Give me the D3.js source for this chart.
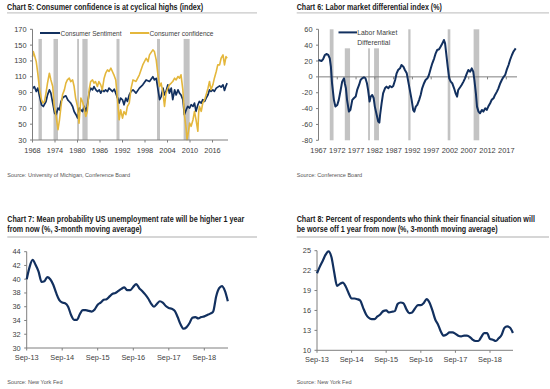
<!DOCTYPE html>
<html>
<head>
<meta charset="utf-8">
<script src="https://cdn.jsdelivr.net/npm/d3@7"></script>
<style>
	body { margin: 0; background: #fff; }
	svg { display: block; }
	text { font-family: "Liberation Sans Narrow", "Arial Narrow", "Liberation Sans", Arial, sans-serif; fill: #404040; }
	.title { font-weight: bold; fill: #1a1a1a; font-size: 8.2px; }
	.source { font-size: 6px; fill: #555; }
	.tick { font-size: 7.4px; }
	.axis { stroke: #7f7f7f; stroke-width: 1; fill: none; }
	.legend { font-size: 7.4px; }
</style>
</head>
<body>
<svg id="chart" width="550" height="389"></svg>
<script>

// chart 5: recession bars and the two surveys, [decimal year, index]
var recessions5 = [[1969.6, 1970.5], [1973.6, 1974.8], [1979.9, 1980.4], [1981.3, 1982.7], [1990.4, 1991.2], [2001.2, 2002.0], [2008.3, 2009.9]];
var years5 = [1968, 1974, 1980, 1986, 1992, 1998, 2004, 2010, 2016];
var ticks5 = [30, 50, 70, 90, 110, 130, 150, 170];

var sentiment = [
	[1968.0, 95], [1968.5, 97.6], [1969.0, 91.3], [1969.4, 95.6], [1970.0, 83], [1970.4, 74.5], [1970.9, 72.4],
	[1971.6, 78.7], [1972.0, 87], [1972.5, 93.4], [1972.9, 89.3], [1973.4, 76.7], [1973.9, 64], [1974.3, 62],
	[1974.8, 70.4], [1975.2, 68], [1975.6, 78.7], [1976.0, 83], [1976.5, 85], [1976.9, 85.9], [1977.4, 80.8],
	[1977.8, 78.7], [1978.2, 76.7], [1978.7, 72.4], [1979.1, 66], [1979.6, 62], [1980.0, 58], [1980.5, 70.4],
	[1980.9, 68], [1981.3, 66], [1981.8, 72.4], [1982.2, 66], [1982.6, 72.4], [1983.1, 89.3], [1983.5, 95.6],
	[1984.0, 93.4], [1984.4, 97.6], [1984.9, 93.4], [1985.3, 91.3], [1985.8, 93.4], [1986.2, 89.3], [1986.6, 93.4],
	[1987.1, 91.3], [1987.5, 93.4], [1988.0, 91.3], [1988.4, 95.6], [1988.9, 93.4], [1989.3, 91.3], [1989.8, 94.3],
	[1990.2, 89.3], [1990.7, 83], [1991.1, 76.7], [1991.5, 83], [1992.0, 80.8], [1992.4, 74.5], [1992.9, 83],
	[1993.3, 78.7], [1993.8, 87], [1994.3, 91.4], [1994.8, 93.5], [1995.6, 89.3], [1996.5, 95.6], [1997.4, 99.8],
	[1998.3, 106], [1999.2, 104], [2000.1, 110], [2000.5, 106], [2001.0, 108], [2001.4, 95.6], [2001.9, 81],
	[2002.3, 85], [2002.8, 95.6], [2003.2, 87], [2003.6, 91.4], [2004.1, 99.8], [2004.5, 89.3], [2005.0, 95.6],
	[2005.4, 81], [2005.9, 93.5], [2006.3, 87], [2006.8, 93.5], [2007.2, 89.3], [2007.6, 87], [2008.1, 81],
	[2008.5, 62], [2009.0, 68.3], [2009.4, 72.5], [2009.9, 70.4], [2010.3, 74.6], [2010.8, 72.5], [2011.2, 76.7],
	[2011.6, 66.2], [2012.1, 74.6], [2012.5, 78.8], [2013.0, 76.7], [2013.4, 81], [2013.9, 78.8], [2014.3, 83],
	[2014.8, 87.2], [2015.2, 93.5], [2015.6, 91.4], [2016.1, 93.5], [2016.5, 91.4], [2017.0, 95.6], [2017.4, 96.9],
	[2017.9, 98.5], [2018.3, 96.9], [2018.8, 99.8], [2019.2, 92.6], [2019.6, 98.5], [2019.9, 102]
];

var confidence = [
	[1968.0, 135], [1968.2, 141.8], [1968.5, 137.6], [1969.0, 129.1], [1969.4, 114.5], [1969.9, 93.4], [1970.4, 80.8],
	[1970.8, 76.7], [1971.2, 78.7], [1971.6, 89.3], [1972.0, 101.9], [1972.5, 114.5], [1972.9, 106], [1973.4, 97.6],
	[1973.8, 72.4], [1974.3, 59.8], [1974.8, 43], [1975.2, 55.6], [1975.6, 72.4], [1976.0, 87.2], [1976.5, 93.4],
	[1976.9, 101.9], [1977.3, 106], [1977.8, 108.2], [1978.2, 103.9], [1978.7, 106], [1979.1, 97.6], [1979.5, 83],
	[1980.0, 72.4], [1980.4, 51.4], [1980.9, 83], [1981.3, 78.7], [1981.7, 72.4], [1982.2, 59.8], [1982.6, 66],
	[1983.1, 93.4], [1983.5, 103.9], [1984.0, 106], [1984.4, 101.9], [1984.8, 103.9], [1985.3, 97.6], [1985.7, 103.9],
	[1986.2, 99.7], [1986.6, 93.4], [1987.1, 108.2], [1987.5, 114.5], [1988.0, 118.7], [1988.4, 116.6], [1988.9, 120.8],
	[1989.3, 116.6], [1989.7, 112.4], [1990.2, 106], [1990.6, 85], [1991.1, 55.6], [1991.5, 68.2], [1992.0, 57.7],
	[1992.4, 66], [1992.9, 62], [1993.3, 72.4], [1993.8, 76.7], [1994.3, 95.6], [1994.8, 106], [1995.6, 104],
	[1996.5, 112.4], [1997.4, 125], [1998.3, 133.4], [1998.8, 129], [1999.2, 137.6], [2000.1, 144], [2000.5, 142],
	[2001.0, 131], [2001.4, 114.5], [2001.9, 97.7], [2002.3, 102], [2002.8, 89.3], [2003.2, 72.5], [2003.6, 89.3],
	[2004.1, 95.6], [2004.5, 99.8], [2005.0, 102], [2005.4, 104], [2005.9, 108.2], [2006.3, 106], [2006.8, 110.3],
	[2007.2, 108.2], [2007.6, 112.4], [2008.1, 93.5], [2008.5, 62], [2009.0, 43], [2009.2, 30.4], [2009.6, 41],
	[2009.9, 51.5], [2010.3, 47.3], [2010.8, 55.7], [2011.2, 66.2], [2011.6, 55.7], [2012.1, 41], [2012.3, 64],
	[2012.5, 72.5], [2013.0, 66.2], [2013.4, 76.7], [2013.9, 81], [2014.3, 87.2], [2014.8, 95.6], [2015.2, 104],
	[2015.6, 93.5], [2016.1, 99.8], [2016.5, 108.2], [2017.0, 116.6], [2017.4, 125], [2017.9, 125], [2018.3, 133.4],
	[2018.8, 137.6], [2019.2, 125], [2019.6, 135.5], [2019.9, 133.4]
];

// chart 6: labor market differential, [decimal year, %]; bars carry their top value
var recessions6 = [[1970.0, 1971.0, 60], [1974.0, 1975.4, 36], [1980.2, 1980.7, 36], [1981.8, 1983.1, 36], [1990.9, 1991.5, 60], [2001.4, 2002.1, 60], [2008.3, 2009.8, 60]];
var years6 = [1967, 1972, 1977, 1982, 1987, 1992, 1997, 2002, 2007, 2012, 2017];
var ticks6 = [-80, -60, -40, -20, 0, 20, 40, 60];

var labor = [
	[1967.0, 21.3], [1967.8, 20], [1968.2, 22], [1968.7, 27.6], [1969.1, 28.9], [1969.6, 27.6], [1970.0, 23.4],
	[1970.3, 13], [1970.6, -8], [1971.1, -29], [1971.5, -37.5], [1972.0, -35.4], [1972.4, -29], [1972.9, -16.5],
	[1973.3, -6], [1973.8, -1.8], [1974.0, -8], [1974.3, -14.4], [1974.6, -29], [1975.1, -43.8], [1975.5, -41.7],
	[1976.0, -29], [1976.4, -27], [1976.9, -24.9], [1977.3, -16.5], [1977.8, -10.2], [1978.2, -3.9], [1978.6, -1.8],
	[1979.1, -0.5], [1979.5, -1.8], [1979.9, -8], [1980.2, -16.5], [1980.6, -31.2], [1980.9, -24.9], [1981.3, -22.8],
	[1981.7, -27], [1982.0, -37.5], [1982.5, -48], [1982.9, -56.4], [1983.2, -57.7], [1983.4, -48], [1983.8, -33.3],
	[1984.2, -20.7], [1984.7, -14.4], [1985.1, -12.3], [1985.6, -14.4], [1986.0, -11.5], [1986.5, -13.1], [1986.9, -11.5],
	[1987.4, -3.9], [1987.8, 4.5], [1988.2, 8.7], [1988.7, 10.8], [1989.1, 15], [1989.6, 12.9], [1990.0, 8.7],
	[1990.5, 4.5], [1990.9, -6], [1991.4, -18.6], [1991.8, -29], [1992.2, -41.7], [1992.5, -43.8], [1992.9, -37.5],
	[1993.3, -35.4], [1993.8, -29], [1994.2, -22.8], [1994.6, -14.4], [1995.1, -8], [1995.5, -3.9], [1996.0, -1.8],
	[1996.4, 2.4], [1996.9, 10.8], [1997.3, 17.1], [1997.8, 23.4], [1998.2, 29.7], [1998.6, 33.9], [1999.1, 34.8],
	[1999.5, 38.1], [2000.0, 42.3], [2000.4, 46.5], [2000.7, 42.3], [2001.0, 29.7], [2001.4, 12.9], [2001.8, -1.8],
	[2002.2, -6], [2002.6, -8], [2003.1, -14.4], [2003.5, -20.7], [2003.9, -24.9], [2004.2, -16.5], [2004.7, -13.1],
	[2005.1, -10.2], [2005.6, -6], [2006.0, -1.8], [2006.5, 4.5], [2006.9, 8.7], [2007.4, 6.6], [2007.8, 10.8],
	[2008.2, 6.6], [2008.5, -3.9], [2008.9, -20.7], [2009.2, -37.5], [2009.6, -43.8], [2010.0, -45.9], [2010.5, -41.7],
	[2010.9, -43.8], [2011.4, -39.6], [2011.8, -41.7], [2012.2, -37.5], [2012.7, -33.3], [2013.1, -29], [2013.6, -27],
	[2014.0, -22.8], [2014.5, -18.6], [2014.9, -14.4], [2015.4, -8], [2015.8, -3.9], [2016.2, -0.5], [2016.7, 2.4],
	[2017.1, 8.7], [2017.6, 15], [2018.0, 21.3], [2018.5, 27.6], [2018.9, 31.8], [2019.2, 33.9], [2019.5, 36]
];

// charts 7 and 8: monthly, first month Sep-13
var startMonth = new Date(2013, 8, 1);
var tickMonths = [2013, 2014, 2015, 2016, 2017, 2018];
var ticks7 = [30, 32, 34, 36, 38, 40, 42, 44];
var ticks8 = [10, 13, 16, 19, 22, 25];

var unemployment = [
	40.0, 41.8, 42.8, 42.1, 41.1, 39.6, 39.7, 40.3, 40.0, 39.2, 38.0, 37.0, 36.6, 36.5, 36.0, 34.8, 34.1,
	34.1, 34.9, 35.5, 35.5, 35.4, 35.3, 35.6, 36.3, 36.6, 37.0, 37.1, 37.5, 37.9, 38.0, 38.3, 38.6, 38.8,
	38.4, 38.4, 38.9, 39.3, 38.7, 38.3, 37.8, 37.2, 36.5, 36.0, 36.4, 36.8, 36.6, 36.1, 35.8, 35.7, 35.4,
	34.5, 33.4, 32.8, 33.0, 33.6, 34.4, 34.5, 34.3, 34.5, 34.6, 34.8, 35.0, 35.3, 37.5, 38.7, 39.0, 38.3, 36.8
];

var worseOff = [
	21.6, 22.6, 23.5, 24.4, 24.9, 24.0, 21.8, 19.7, 20.0, 20.2, 19.6, 18.6, 17.8, 17.8, 17.7, 17.5, 16.4,
	15.4, 14.9, 14.7, 14.7, 15.1, 15.4, 15.9, 16.0, 15.7, 15.8, 15.9, 17.0, 17.2, 17.1, 16.2, 15.6, 15.7,
	16.3, 16.8, 16.8, 17.1, 17.7, 17.2, 16.0, 14.6, 13.9, 12.8, 12.2, 12.4, 12.7, 12.7, 12.5, 12.2, 12.1,
	12.2, 12.2, 12.0, 11.6, 11.4, 11.4, 12.0, 12.6, 12.6, 11.7, 11.6, 11.4, 11.8, 12.3, 13.4, 13.6, 13.4, 12.6
];

var navy = "#12305f",
	gold = "#e4b73c",
	barGrey = "#c3c3c3";

var svg = d3.select("#chart");

// place a text and squeeze it horizontally to the width it has in the picture
function fitText(parent, cls, x, y, w, t) {
	var el = parent.append("text")
	.attr("class", cls)
	.attr("x", 0)
	.attr("y", 0)
	.text(t);
	var natural = el.node().getComputedTextLength();
	var s = natural > 0 ? w / natural : 1;
	el.attr("transform", "translate(" + x + "," + y + ") scale(" + s + ",1)");
	return el;
}

function titleBlock(x, lines, widths, yLines, rule) {
	var g = svg.append("g");
	lines.forEach(function (t, i) {
		fitText(g, "title", x, yLines[i], widths[i], t);
	});
	g.append("line")
	.attr("x1", x)
	.attr("x2", rule[1])
	.attr("y1", rule[0])
	.attr("y2", rule[0])
	.attr("stroke", "#c8c8c8")
	.attr("stroke-width", 1.3);
}

function source(x, y, t, w) {
	fitText(svg, "source", x, y, w, t);
}

function yAxis(x, yScale, values) {
	var g = svg.append("g");
	var r = yScale.range();
	g.append("line").attr("class", "axis")
	.attr("x1", x).attr("x2", x).attr("y1", r[0]).attr("y2", r[1]);
	g.selectAll("line.tk")
	.data(values)
	.enter()
	.append("line")
	.attr("class", "axis tk")
	.attr("x1", x - 2.5).attr("x2", x)
	.attr("y1", function (d) { return yScale(d); })
	.attr("y2", function (d) { return yScale(d); });
	g.selectAll("text")
	.data(values)
	.enter()
	.append("text")
	.attr("class", "tick")
	.attr("text-anchor", "end")
	.attr("x", x - 6)
	.attr("y", function (d) { return yScale(d); })
	.attr("dy", "0.34em")
	.text(function (d) { return d; });
}

function xAxis(y, x1, x2, xScale, values, fmt, labelY) {
	var g = svg.append("g");
	g.append("line").attr("class", "axis")
	.attr("x1", x1).attr("x2", x2).attr("y1", y).attr("y2", y);
	g.selectAll("line.tk")
	.data(values)
	.enter()
	.append("line")
	.attr("class", "axis tk")
	.attr("x1", function (d) { return xScale(d); })
	.attr("x2", function (d) { return xScale(d); })
	.attr("y1", y).attr("y2", y + 2.5);
	g.selectAll("text")
	.data(values)
	.enter()
	.append("text")
	.attr("class", "tick")
	.attr("text-anchor", "middle")
	.attr("x", function (d) { return xScale(d); })
	.attr("y", labelY)
	.text(fmt);
}

// ---- chart 5
(function () {
	var x = d3.scaleLinear().domain([1968, 2016]).range([32.5, 212.5]),
		y = d3.scaleLinear().domain([30, 170]).range([140, 29.3]);

	titleBlock(7, ["Chart 5: Consumer confidence is at cyclical highs (index)"], [196], [9.6], [12.8, 257]);

	svg.append("g")
	.selectAll("rect")
	.data(recessions5)
	.enter()
	.append("rect")
	.attr("x", function (d) { return x(d[0]); })
	.attr("width", function (d) { return x(d[1]) - x(d[0]); })
	.attr("y", y(157.8))
	.attr("height", y(30) - y(157.8))
	.attr("fill", barGrey);

	var line = d3.line()
	.x(function (d) { return x(d[0]); })
	.y(function (d) { return y(d[1]); });

	svg.append("path").datum(sentiment)
	.attr("d", line).attr("fill", "none").attr("stroke", navy).attr("stroke-width", 1.7).attr("stroke-linejoin", "round");
	svg.append("path").datum(confidence)
	.attr("d", line).attr("fill", "none").attr("stroke", gold).attr("stroke-width", 1.6).attr("stroke-linejoin", "round");

	yAxis(32.5, y, ticks5);
	xAxis(140, 32.5, 228, x, years5, function (d) { return d; }, 152.5);

	// legend
	var lg = svg.append("g").attr("class", "legend");
	lg.append("line").attr("x1", 40).attr("x2", 60).attr("y1", 33).attr("y2", 33).attr("stroke", navy).attr("stroke-width", 2);
	fitText(lg, "legend", 60.5, 35.6, 61, "Consumer Sentiment");
	lg.append("line").attr("x1", 130).attr("x2", 149).attr("y1", 33).attr("y2", 33).attr("stroke", gold).attr("stroke-width", 2);
	fitText(lg, "legend", 149.5, 35.6, 64, "Consumer confidence");

	source(7.3, 176.5, "Source: University of Michigan, Conference Board", 123);
})();

// ---- chart 6
(function () {
	var x = d3.scaleLinear().domain([1967, 2017]).range([318.5, 506.3]),
		y = d3.scaleLinear().domain([-80, 60]).range([140.3, 29.3]);

	titleBlock(296.7, ["Chart 6: Labor market differential index (%)"], [145], [9.6], [12.8, 549]);

	svg.append("g")
	.selectAll("rect")
	.data(recessions6)
	.enter()
	.append("rect")
	.attr("x", function (d) { return x(d[0]); })
	.attr("width", function (d) { return x(d[1]) - x(d[0]); })
	.attr("y", function (d) { return y(d[2]); })
	.attr("height", function (d) { return y(-80) - y(d[2]); })
	.attr("fill", barGrey);

	yAxis(318.5, y, ticks6);
	// zero line carries the ticks, year labels sit under the plot
	xAxis(y(0), 318.5, 517, x, years6, function (d) { return d; }, 152.5);

	var line = d3.line()
	.x(function (d) { return x(d[0]); })
	.y(function (d) { return y(d[1]); });

	svg.append("path").datum(labor)
	.attr("d", line).attr("fill", "none").attr("stroke", navy).attr("stroke-width", 2).attr("stroke-linejoin", "round");

	var lg = svg.append("g").attr("class", "legend");
	lg.append("line").attr("x1", 338.5).attr("x2", 357).attr("y1", 32.4).attr("y2", 32.4).attr("stroke", navy).attr("stroke-width", 2);
	fitText(lg, "legend", 357.3, 35, 40, "Labor Market");
	fitText(lg, "legend", 357.3, 44.6, 33, "Differential");

	source(296.7, 176.5, "Source: Conference Board", 65.6);
})();

// ---- charts 7 and 8
function monthly(values) {
	return values.map(function (v, i) {
		return {date: d3.timeMonth.offset(startMonth, i), value: v};
	});
}
var fmtMonth = d3.timeFormat("%b-%y");
var septembers = tickMonths.map(function (yr) { return new Date(yr, 8, 1); });

(function () {
	var x = d3.scaleTime().domain([septembers[0], septembers[5]]).range([26.7, 204.3]),
		y = d3.scaleLinear().domain([30, 44]).range([348, 251.7]);

	titleBlock(7.3, ["Chart 7: Mean probability US unemployment rate will be higher 1 year", "from now (%, 3-month moving average)"],
		[237, 134.4], [221.6, 232.4], [237, 257]);

	yAxis(26.7, y, ticks7);
	xAxis(348, 26.7, 228, x, septembers, fmtMonth, 359.6);

	var line = d3.line()
	.curve(d3.curveMonotoneX)
	.x(function (d) { return x(d.date); })
	.y(function (d) { return y(d.value); });

	svg.append("path").datum(monthly(unemployment))
	.attr("d", line).attr("fill", "none").attr("stroke", navy).attr("stroke-width", 2.2).attr("stroke-linejoin", "round");

	source(7.3, 383.5, "Source: New York Fed", 55.4);
})();

(function () {
	var x = d3.scaleTime().domain([septembers[0], septembers[5]]).range([317, 490]),
		y = d3.scaleLinear().domain([10, 25]).range([350.3, 250.7]);

	titleBlock(296.7, ["Chart 8: Percent of respondents who think their financial situation will", "be worse off 1 year from now (%, 3-month moving average)"],
		[238.3, 201], [221.6, 232.4], [237, 549]);

	yAxis(317, y, ticks8);
	xAxis(350.3, 317, 513, x, septembers, fmtMonth, 362);

	var line = d3.line()
	.curve(d3.curveMonotoneX)
	.x(function (d) { return x(d.date); })
	.y(function (d) { return y(d.value); });

	svg.append("path").datum(monthly(worseOff))
	.attr("d", line).attr("fill", "none").attr("stroke", navy).attr("stroke-width", 2.2).attr("stroke-linejoin", "round");

	source(296.7, 383.5, "Source: New York Fed", 55);
})();

</script>
</body>
</html>
